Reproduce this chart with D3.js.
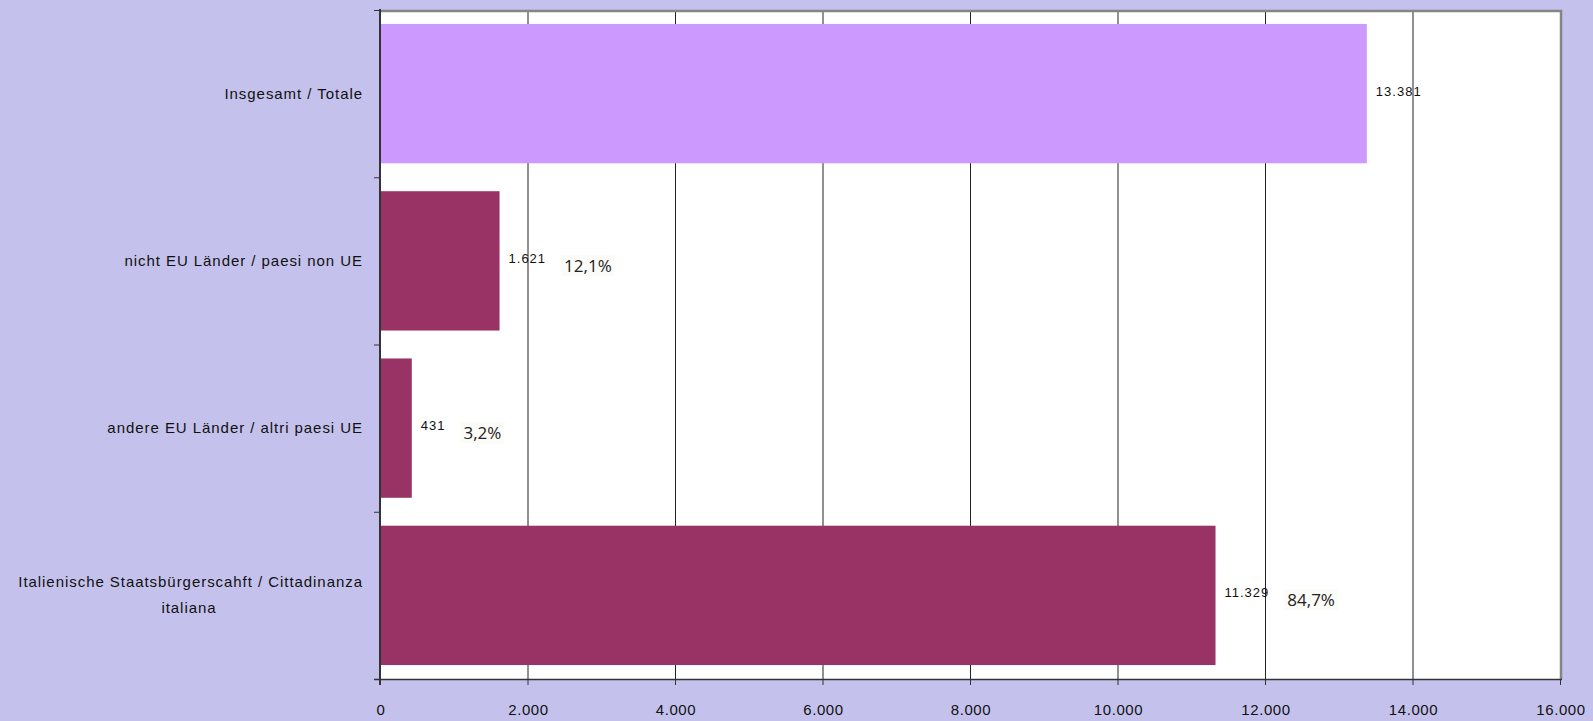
<!DOCTYPE html>
<html>
<head>
<meta charset="utf-8">
<script src="https://cdn.jsdelivr.net/npm/d3@7"></script>
<style>
  html, body { margin: 0; padding: 0; background: #c4c2ec; }
  svg { display: block; }
  .cat { font-family: "Liberation Sans", Arial, sans-serif; font-size: 15px; fill: #111; letter-spacing: 0.95px; }
  .val { font-family: "Liberation Sans", Arial, sans-serif; font-size: 13px; fill: #111; letter-spacing: 1px; }
  .pct { font-family: "Open Sans", sans-serif; font-size: 17px; fill: #222; }
  .tick-lbl { font-family: "Liberation Sans", Arial, sans-serif; font-size: 15px; fill: #111; letter-spacing: 0.6px; }
</style>
</head>
<body>
<script>
// categories top to bottom
const categories = [
  ['Insgesamt / Totale'],
  ['nicht EU Länder / paesi non UE'],
  ['andere EU Länder / altri paesi UE'],
  ['Italienische Staatsbürgerscahft / Cittadinanza', 'italiana']
]
const values = [13381, 1621, 431, 11329]
const shares = [null, '12,1%', '3,2%', '84,7%']
const barColors = ['#cc99ff', '#993366', '#993366', '#993366']
const xTicks = [0, 2000, 4000, 6000, 8000, 10000, 12000, 14000, 16000]

const width = 1593, height = 721
const margin = { top: 10, right: 33, bottom: 42, left: 380 }

const de = d3.formatLocale({ decimal: ',', thousands: '.', grouping: [3], currency: ['', '€'] })
const fmt = de.format(',')

const svg = d3.select('body').append('svg')
    .attr('width', width)
    .attr('height', height)

const x = d3.scaleLinear()
    .domain([0, 16000])
    .range([margin.left, width - margin.right])

const y = d3.scaleBand()
    .domain(d3.range(categories.length))
    .range([margin.top, height - margin.bottom])
    .paddingInner(0.167)
    .paddingOuter(0.0835)

const plotTop = margin.top, plotBottom = height - margin.bottom

// plot area
svg.append('rect')
    .attr('x', x(0)).attr('y', plotTop)
    .attr('width', x(16000) - x(0)).attr('height', plotBottom - plotTop)
    .attr('fill', '#fff')

// gridlines
svg.append('g').selectAll('line')
  .data(xTicks.filter(d => d > 0 && d < 16000))
  .join('line')
    .attr('x1', d => x(d) + 0.5).attr('x2', d => x(d) + 0.5)
    .attr('y1', plotTop).attr('y2', plotBottom)
    .attr('stroke', '#222').attr('stroke-width', 1)

// bars
svg.append('g').selectAll('rect')
  .data(values)
  .join('rect')
    .attr('x', x(0))
    .attr('y', (d, i) => y(i))
    .attr('width', d => x(d) - x(0))
    .attr('height', y.bandwidth())
    .attr('fill', (d, i) => barColors[i])

// frame: top and right in grey
svg.append('path')
    .attr('d', `M${x(0)},${plotTop + 1}H${x(16000) + 1}V${plotBottom}`)
    .attr('fill', 'none').attr('stroke', '#858585').attr('stroke-width', 2.5)

// x axis
const xAxis = svg.append('g')
xAxis.append('line')
    .attr('x1', x(0) - 6).attr('x2', x(16000) + 2)
    .attr('y1', plotBottom + 0.5).attr('y2', plotBottom + 0.5)
    .attr('stroke', '#333').attr('stroke-width', 1.5)
xAxis.selectAll('line.t')
  .data(xTicks)
  .join('line')
    .attr('class', 't')
    .attr('x1', d => x(d) + 0.5).attr('x2', d => x(d) + 0.5)
    .attr('y1', plotBottom).attr('y2', plotBottom + 6)
    .attr('stroke', '#333')
xAxis.selectAll('text')
  .data(xTicks)
  .join('text')
    .attr('class', 'tick-lbl')
    .attr('x', d => x(d) + 1)
    .attr('y', 715)
    .attr('text-anchor', 'middle')
    .text(d => fmt(d))

// y axis
const yAxis = svg.append('g')
yAxis.append('line')
    .attr('x1', x(0)).attr('x2', x(0))
    .attr('y1', plotTop - 1).attr('y2', plotBottom + 6)
    .attr('stroke', '#333').attr('stroke-width', 2)
const bounds = d3.range(categories.length + 1).map(i => plotTop + i * y.step())
yAxis.selectAll('line.t')
  .data(bounds)
  .join('line')
    .attr('class', 't')
    .attr('x1', x(0) - 6).attr('x2', x(0))
    .attr('y1', d => d + 0.5).attr('y2', d => d + 0.5)
    .attr('stroke', '#333')

// category labels
svg.append('g').selectAll('text')
  .data(categories)
  .join('text')
    .attr('class', 'cat')
    .attr('text-anchor', 'end')
    .attr('x', 363)
    .attr('y', (d, i) => y(i) + y.bandwidth() / 2 + 5 - (d.length - 1) * 13)
    .each(function (lines) {
      const t = d3.select(this)
      lines.forEach((l, k) => {
        t.append('tspan')
            .attr('x', k === 0 ? 363 : 189)
            .attr('text-anchor', k === 0 ? 'end' : 'middle')
            .attr('dy', k === 0 ? 0 : 26)
            .text(l)
      })
    })

// value labels and shares
const labels = svg.append('g')
values.forEach((v, i) => {
  const cy = y(i) + y.bandwidth() / 2
  const t = labels.append('text')
      .attr('class', 'val')
      .attr('x', x(v) + 9)
      .attr('y', cy + 2)
      .text(fmt(v))
  if (shares[i]) {
    const w = t.node().getComputedTextLength()
    const px = x(v) + 9 + w + 18
    const p = labels.append('text')
        .attr('class', 'pct')
        .attr('x', px)
        .attr('y', cy + 11)
        .text(shares[i])
    const bb = p.node().getBBox()
    labels.insert('rect', () => p.node())
        .attr('x', bb.x - 3).attr('y', bb.y + 1)
        .attr('width', bb.width + 6).attr('height', bb.height - 2)
        .attr('fill', '#fbfbf7')
  }
})
</script>
</body>
</html>
